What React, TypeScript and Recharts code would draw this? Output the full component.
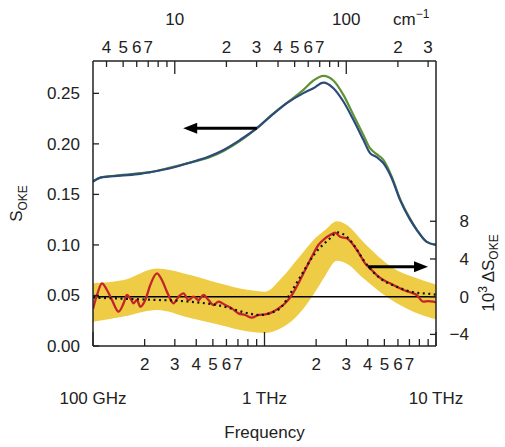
import React from 'react';
import { ComposedChart, XAxis, YAxis, Line, Area, ReferenceLine } from 'recharts';

const FONT = '"Liberation Sans", Arial, Helvetica, sans-serif';
const INK = '#222';
const FS = 17;

// S_OKE curves (left axis), frequency in THz
const sokeFreq = [0.1, 0.1103, 0.1443, 0.1886, 0.2157, 0.282, 0.369, 0.4824, 0.577, 0.7213, 0.903, 1.108, 1.35, 1.686, 1.929, 2.205, 2.522, 2.884, 3.298, 3.772, 4.126, 4.513, 4.932, 5.521, 6.17, 7.06, 7.72, 8.83, 10];
const sokeBlue = [0.1627, 0.1666, 0.1686, 0.1703, 0.172, 0.1759, 0.1815, 0.188, 0.194, 0.204, 0.2155, 0.2287, 0.2403, 0.2502, 0.2551, 0.2607, 0.2551, 0.2419, 0.2238, 0.204, 0.1908, 0.1868, 0.1809, 0.166, 0.1446, 0.125, 0.115, 0.103, 0.1];
const sokeGreen = [0.1627, 0.1666, 0.169, 0.171, 0.172, 0.1765, 0.1815, 0.187, 0.193, 0.203, 0.2155, 0.229, 0.2405, 0.2535, 0.2627, 0.2673, 0.2627, 0.2485, 0.2287, 0.2089, 0.1957, 0.1898, 0.1842, 0.1676, 0.1455, 0.126, 0.115, 0.103, 0.1];

// uncertainty band (right axis, 10^3 ΔS)
const bandFreq = [0.1, 0.1508, 0.236, 0.369, 0.5515, 0.8065, 1.009, 1.262, 1.577, 1.973, 2.256, 2.64, 3.018, 3.772, 4.72, 5.902, 7.376, 10];
const bandHigh = [1.42, 1.77, 3.0, 2.3, 1.4, 0.7, 0.53, 2.0, 4.1, 6.2, 7.07, 8.0, 7.6, 5.8, 4.1, 2.8, 2.1, 1.3];
const bandLow = [-2.65, -2.1, -1.4, -2.26, -3.0, -3.7, -3.85, -3.3, -1.9, 0.5, 2.2, 3.8, 3.5, 1.95, 0.5, -0.7, -1.6, -2.4];

// measured difference (red)
const diffFreq = [0.1, 0.1055, 0.1128, 0.1206, 0.129, 0.141, 0.1508, 0.1578, 0.1649, 0.1724, 0.1804, 0.1886, 0.2017, 0.2157, 0.236, 0.2523, 0.2698, 0.2948, 0.3153, 0.3372, 0.3606, 0.3856, 0.4123, 0.4409, 0.4715, 0.5042, 0.5392, 0.5899, 0.6453, 0.705, 0.7715, 0.844, 0.9221, 1.009, 1.103, 1.206, 1.319, 1.443, 1.577, 1.725, 1.887, 2.062, 2.256, 2.413, 2.58, 2.759, 3.018, 3.298, 3.608, 3.858, 4.126, 4.513, 4.932, 5.395, 5.902, 6.449, 7.055, 7.72, 8.433, 9.018, 9.645, 10];
const diffRed = [-1.3, 0.18, 1.42, 0.71, -0.35, -1.59, -0.7, 0.18, -0.17, -0.7, -0.35, -1.06, -0.35, 1.24, 2.48, 1.77, 0.53, -0.7, 0, 0.35, -0.35, 0, -0.35, 0.18, -0.35, -0.88, -0.53, -0.88, -1.24, -1.77, -1.94, -2.22, -1.94, -1.87, -1.66, -1.24, -0.7, 0.18, 1.42, 2.83, 4.24, 5.48, 6.19, 6.54, 6.8, 6.36, 6.19, 5.48, 4.42, 3.54, 3.0, 2.3, 1.77, 1.42, 1.06, 0.71, 0.47, 0.18, -0.53, -0.46, -0.53, -0.6];

// model fit (dotted)
const fitFreq = [0.1, 0.2, 0.35, 0.55, 0.8, 0.93, 1.1, 1.26, 1.4, 1.577, 1.973, 2.469, 2.64, 3.018, 3.4, 3.772, 4.72, 5.902, 7.376, 9.645, 10];
const fitValues = [-0.1, -0.3, -0.5, -0.95, -1.75, -1.95, -1.7, -1.06, 0.2, 1.77, 4.6, 6.36, 6.83, 6.36, 5.2, 3.9, 1.95, 1.06, 0.47, 0.25, 0.2];

// ticks
const bottomTicks = [0.1, 0.2, 0.3, 0.4, 0.5, 0.6, 0.7, 0.8, 0.9, 1, 2, 3, 4, 5, 6, 7, 8, 9, 10];
const bottomTickLabels = ['100 GHz', '2', '3', '4', '5', '6', '7', '', '', '1 THz', '2', '3', '4', '5', '6', '7', '', '', '10 THz'];
const bottomMajor = [0.1, 1, 10];
const topTicksCm = [4, 5, 6, 7, 8, 9, 10, 20, 30, 40, 50, 60, 70, 80, 90, 100, 200, 300];
const topTickLabels = ['4', '5', '6', '7', '', '', '10', '2', '3', '4', '5', '6', '7', '', '', '100', '2', '3'];
const topMajor = [10, 100];
const CM_PER_THZ = 33.356;
const leftTicks = [0, 0.05, 0.1, 0.15, 0.2, 0.25];
const rightTicks = [-4, 0, 4, 8];

const sokeData = sokeFreq.map((f, i) => ({ f, blue: sokeBlue[i], green: sokeGreen[i] }));
const bandData = bandFreq.map((f, i) => ({ f, band: [bandLow[i], bandHigh[i]] }));
const diffData = diffFreq.map((f, i) => ({ f, red: diffRed[i] }));
const fitData = fitFreq.map((f, i) => ({ f, fit: fitValues[i] }));
const topTicksTHz = topTicksCm.map((c) => c / CM_PER_THZ);

const txt = { fontFamily: FONT, fontSize: FS, fill: INK } as const;

const findIdx = (arr: number[], v: number) => arr.findIndex((t) => Math.abs(t - v) / t < 1e-6);

const BottomTick = (props: any) => {
  const { x, y, payload } = props;
  const i = findIdx(bottomTicks, payload.value);
  const major = bottomMajor.some((m) => Math.abs(m - payload.value) < 1e-9);
  const label = bottomTickLabels[i];
  return (
    <g>
      <line x1={x} x2={x} y1={y} y2={y - (major ? 14 : 7)} stroke={INK} strokeWidth={1.3} />
      {label ? (
        <text x={x} y={major ? y + 58 : y + 24} textAnchor="middle" {...txt}>{label}</text>
      ) : null}
    </g>
  );
};

const TopTick = (props: any) => {
  const { x, y, payload } = props;
  const cm = payload.value * CM_PER_THZ;
  const i = findIdx(topTicksCm, cm);
  const major = topMajor.some((m) => Math.abs(m - cm) < 1e-6);
  const label = topTickLabels[i];
  return (
    <g>
      <line x1={x} x2={x} y1={y} y2={y + (major ? 13 : 6)} stroke={INK} strokeWidth={1.3} />
      {label ? (
        <text x={x} y={major ? y - 36 : y - 8} textAnchor="middle" {...txt}>{label}</text>
      ) : null}
    </g>
  );
};

const LeftTick = (props: any) => {
  const { x, y, payload } = props;
  return (
    <g>
      <line x1={x} x2={x + 6} y1={y} y2={y} stroke={INK} strokeWidth={1.3} />
      <text x={x - 13} y={y + 6} textAnchor="end" {...txt}>{Number(payload.value).toFixed(2)}</text>
    </g>
  );
};

const RightTick = (props: any) => {
  const { x, y, payload } = props;
  const v = Number(payload.value);
  return (
    <g>
      <line x1={x} x2={x - 6} y1={y} y2={y} stroke={INK} strokeWidth={1.3} />
      <text x={x + 33} y={y + 6} textAnchor="end" {...txt}>{v < 0 ? '\u2212' + Math.abs(v) : String(v)}</text>
    </g>
  );
};

const Arrow = (props: any) => {
  const { x1, y1, x2, y2 } = props;
  const dx = x2 - x1;
  const dy = y2 - y1;
  const len = Math.sqrt(dx * dx + dy * dy) || 1;
  const ux = dx / len;
  const uy = dy / len;
  const hl = 14;
  const hw = 5.5;
  const bx = x2 - ux * hl;
  const by = y2 - uy * hl;
  return (
    <g>
      <line x1={x1} y1={y1} x2={bx + ux * 1} y2={by + uy * 1} stroke="#000" strokeWidth={3} />
      <polygon
        points={`${x2},${y2} ${bx - uy * hw},${by + ux * hw} ${bx + uy * hw},${by - ux * hw}`}
        fill="#000"
      />
    </g>
  );
};

const LeftLabel = (props: any) => {
  const vb = props.viewBox || { x: 0, y: 61, width: 93, height: 285 };
  const cx = vb.x + 22;
  const cy = vb.y + vb.height / 2;
  return (
    <text x={cx} y={cy} transform={`rotate(-90, ${cx}, ${cy})`} textAnchor="middle" {...txt}>
      S<tspan fontSize={12} dy={5}>OKE</tspan>
    </text>
  );
};

const RightLabel = (props: any) => {
  const vb = props.viewBox || { x: 436, y: 61, width: 69, height: 285 };
  const cx = vb.x + 58;
  const cy = vb.y + 212;
  return (
    <text x={cx} y={cy} transform={`rotate(-90, ${cx}, ${cy})`} textAnchor="middle" {...txt}>
      10<tspan fontSize={12} dy={-7}>3</tspan>
      <tspan dy={7}> ΔS</tspan>
      <tspan fontSize={12} dy={4}>OKE</tspan>
    </text>
  );
};

const TopLabel = (props: any) => {
  const vb = props.viewBox || { x: 93, y: 0, width: 343, height: 61 };
  return (
    <text x={vb.x + 300} y={vb.y + 25} textAnchor="start" {...txt}>
      cm<tspan fontSize={12} dy={-7}>{'\u22121'}</tspan>
    </text>
  );
};

const BottomLabel = (props: any) => {
  const vb = props.viewBox || { x: 93, y: 346, width: 343, height: 101 };
  return (
    <text x={vb.x + vb.width / 2} y={vb.y + 92} textAnchor="middle" {...txt}>
      Frequency
    </text>
  );
};

export default function App() {
  return (
    <div style={{ position: 'absolute', left: 0, top: 0, background: '#fff' }}>
      <ComposedChart width={505} height={447} margin={{ top: 0, right: 0, bottom: 0, left: 0 }}>
        <XAxis
          xAxisId="bottom"
          dataKey="f"
          type="number"
          scale="log"
          domain={[0.1, 10]}
          allowDataOverflow
          ticks={bottomTicks}
          interval={0}
          height={101}
          orientation="bottom"
          tickSize={0}
          tickMargin={0}
          tickLine={false}
          tick={<BottomTick />}
          axisLine={{ stroke: INK, strokeWidth: 1.5 }}
          label={{ content: BottomLabel }}
        />
        <XAxis
          xAxisId="top"
          dataKey="f"
          type="number"
          scale="log"
          domain={[0.1, 10]}
          allowDataOverflow
          ticks={topTicksTHz}
          interval={0}
          height={61}
          orientation="top"
          tickSize={0}
          tickMargin={0}
          tickLine={false}
          tick={<TopTick />}
          axisLine={{ stroke: INK, strokeWidth: 1.5 }}
          label={{ content: TopLabel }}
        />
        <YAxis
          yAxisId="left"
          type="number"
          domain={[0, 0.282]}
          allowDataOverflow
          ticks={leftTicks}
          interval={0}
          width={93}
          orientation="left"
          tickSize={0}
          tickMargin={0}
          tickLine={false}
          tick={<LeftTick />}
          axisLine={{ stroke: INK, strokeWidth: 1.5 }}
          label={{ content: LeftLabel }}
        />
        <YAxis
          yAxisId="right"
          type="number"
          domain={[-5.23, 25.0]}
          allowDataOverflow
          ticks={rightTicks}
          interval={0}
          width={69}
          orientation="right"
          tickSize={0}
          tickMargin={0}
          tickLine={false}
          tick={<RightTick />}
          axisLine={{ stroke: INK, strokeWidth: 1.5 }}
          label={{ content: RightLabel }}
        />
        <Area
          xAxisId="bottom"
          yAxisId="right"
          data={bandData}
          dataKey="band"
          type="monotone"
          stroke="none"
          fill="#EFCC45"
          fillOpacity={1}
          isAnimationActive={false}
        />
        <ReferenceLine xAxisId="bottom" yAxisId="right" y={0} stroke="#000" strokeWidth={1.5} />
        <Line
          xAxisId="bottom"
          yAxisId="right"
          data={diffData}
          dataKey="red"
          type="monotone"
          stroke="#C3242B"
          strokeWidth={2.3}
          dot={false}
          isAnimationActive={false}
        />
        <Line
          xAxisId="bottom"
          yAxisId="right"
          data={fitData}
          dataKey="fit"
          type="monotone"
          stroke="#111"
          strokeWidth={2.2}
          strokeDasharray="2 3.5"
          dot={false}
          isAnimationActive={false}
        />
        <Line
          xAxisId="top"
          yAxisId="left"
          data={sokeData}
          dataKey="green"
          type="monotone"
          stroke="#5E9232"
          strokeWidth={2.2}
          dot={false}
          isAnimationActive={false}
        />
        <Line
          xAxisId="bottom"
          yAxisId="left"
          data={sokeData}
          dataKey="blue"
          type="monotone"
          stroke="#2C4A7C"
          strokeWidth={2.2}
          dot={false}
          isAnimationActive={false}
        />
        <ReferenceLine
          xAxisId="bottom"
          yAxisId="left"
          segment={[{ x: 0.903, y: 0.2155 }, { x: 0.3357, y: 0.2155 }]}
          shape={Arrow}
        />
        <ReferenceLine
          xAxisId="bottom"
          yAxisId="right"
          segment={[{ x: 4.02, y: 3.18 }, { x: 8.98, y: 3.18 }]}
          shape={Arrow}
        />
      </ComposedChart>
    </div>
  );
}
